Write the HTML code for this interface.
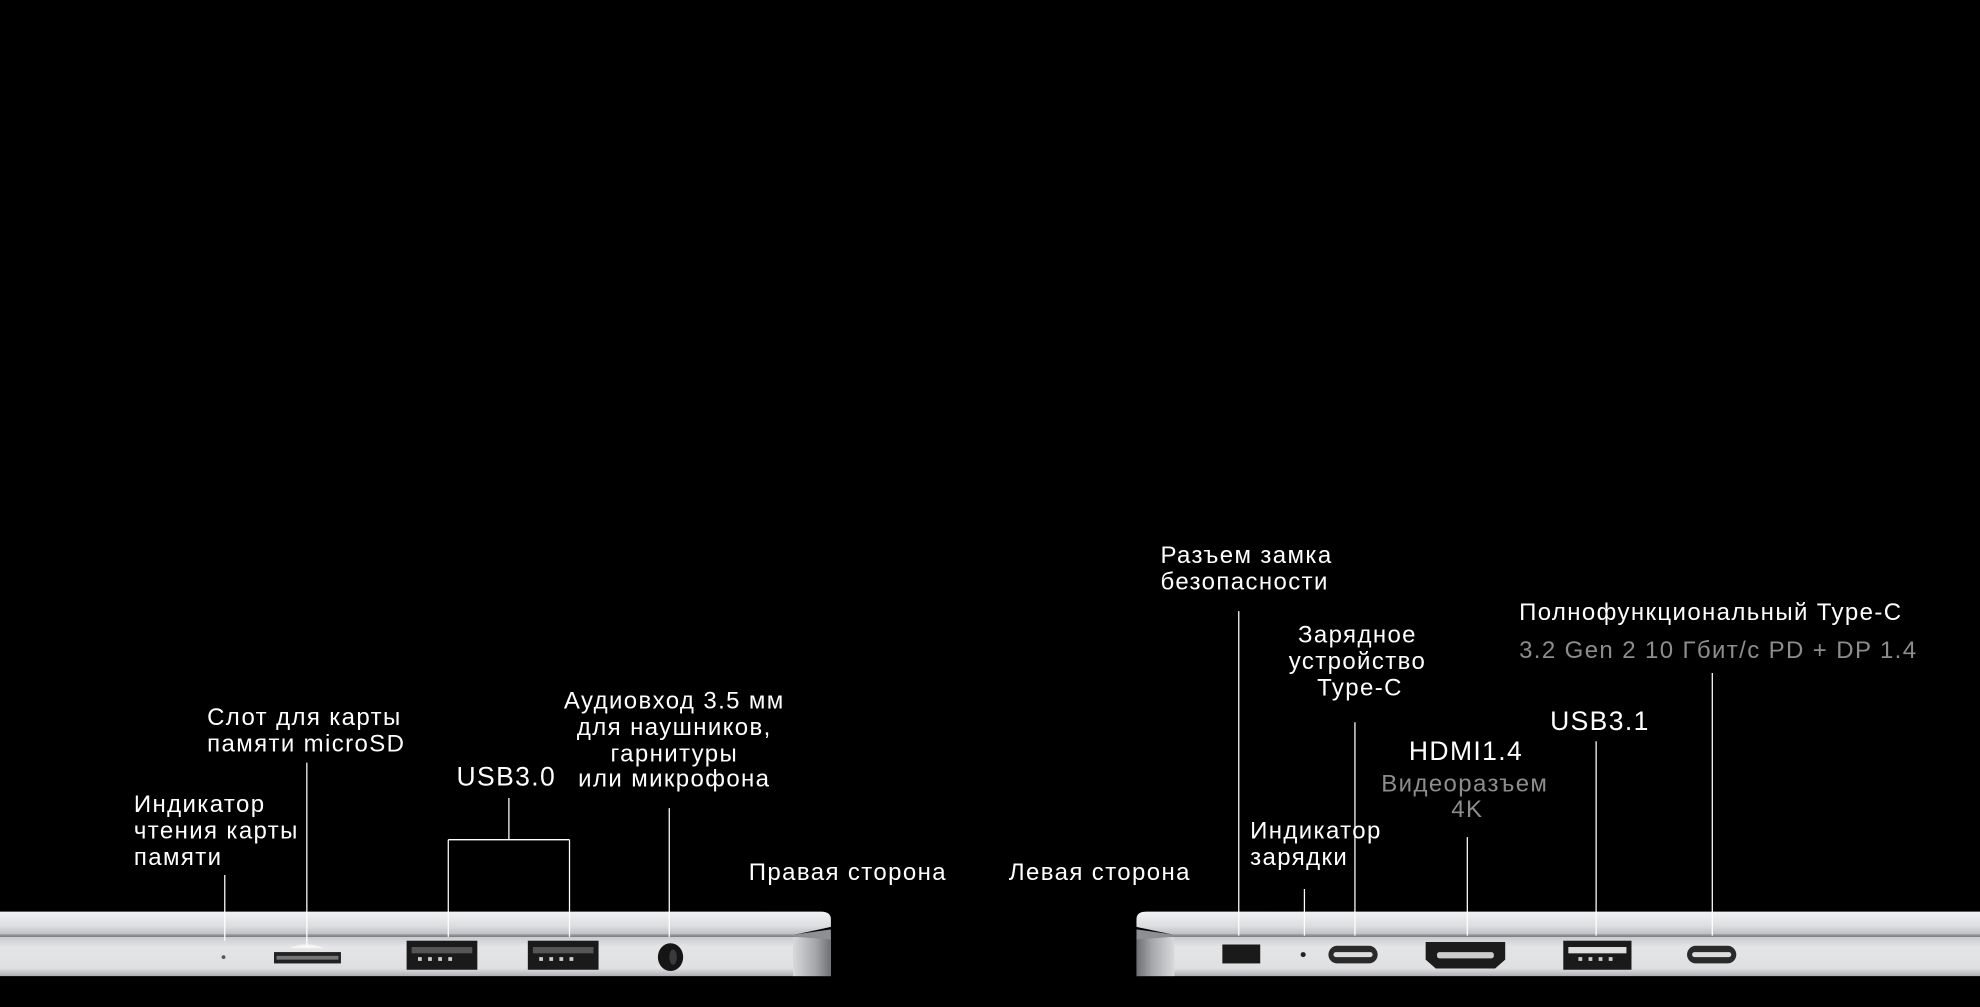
<!DOCTYPE html>
<html><head><meta charset="utf-8"><style>
html,body{margin:0;padding:0;background:#000;width:1980px;height:1007px;overflow:hidden}
svg{display:block}
text{font-family:"Liberation Sans",sans-serif;font-size:19px;fill:#fff;letter-spacing:1.1px}
.g{fill:#8d8d8d}
.l{stroke:#fff;stroke-width:1;fill:none}
</style></head><body>
<svg width="1980" height="1007" viewBox="0 0 1568 797.5" preserveAspectRatio="none">
<defs>
<linearGradient id="lid" x1="0" y1="0" x2="0" y2="1">
<stop offset="0" stop-color="#f2f3f5"/><stop offset="0.6" stop-color="#dcdde0"/><stop offset="1" stop-color="#b9babd"/>
</linearGradient>
<linearGradient id="base" x1="0" y1="0" x2="0" y2="1">
<stop offset="0" stop-color="#c9cacd"/><stop offset="0.25" stop-color="#e4e5e7"/><stop offset="0.8" stop-color="#dfe0e2"/><stop offset="1" stop-color="#b0b1b4"/>
</linearGradient>
<linearGradient id="endR" x1="0" y1="0" x2="1" y2="0">
<stop offset="0" stop-color="#d8d9db"/><stop offset="0.6" stop-color="#a5a6a9"/><stop offset="1" stop-color="#6e6f72"/>
</linearGradient>
<linearGradient id="endL" x1="1" y1="0" x2="0" y2="0">
<stop offset="0" stop-color="#d8d9db"/><stop offset="0.6" stop-color="#a5a6a9"/><stop offset="1" stop-color="#6e6f72"/>
</linearGradient>
</defs>

<!-- left laptop -->
<path d="M0 722 H650 Q658 722 658 728 V734 Q640 738 625 741 H0 Z" fill="url(#lid)"/>
<path d="M0 742 H640 L658 743 V773 H0 Z" fill="url(#base)"/>
<rect x="628" y="742" width="30" height="31" fill="url(#endR)"/>
<path d="M0 740 H630 L658 736 V744 L630 742 H0Z" fill="#8e8f92"/>
<!-- right laptop -->
<path d="M1568 722 H908 Q900 722 900 728 V734 Q918 738 933 741 H1568 Z" fill="url(#lid)"/>
<path d="M1568 742 H918 L900 743 V773 H1568 Z" fill="url(#base)"/>
<rect x="900" y="742" width="30" height="31" fill="url(#endL)"/>
<path d="M1568 740 H928 L900 736 V744 L928 742 H1568Z" fill="#8e8f92"/>

<!-- left ports -->
<circle cx="177" cy="758" r="1.5" fill="#555"/>
<path d="M229 751 Q243 745 257 751Z" fill="#f6f6f6"/>
<rect x="217" y="754" width="53" height="9" fill="#222"/>
<rect x="219" y="757" width="49" height="3" fill="#777"/>
<rect x="322" y="745" width="56" height="23" fill="#1a1a1a"/>
<rect x="326" y="750" width="48" height="5" fill="#555"/>
<g fill="#ccc"><rect x="331" y="758" width="3" height="3"/><rect x="339" y="758" width="3" height="3"/><rect x="347" y="758" width="3" height="3"/><rect x="355" y="758" width="3" height="3"/></g>
<rect x="418" y="745" width="56" height="23" fill="#1a1a1a"/>
<rect x="422" y="750" width="48" height="5" fill="#555"/>
<g fill="#ccc"><rect x="427" y="758" width="3" height="3"/><rect x="435" y="758" width="3" height="3"/><rect x="443" y="758" width="3" height="3"/><rect x="451" y="758" width="3" height="3"/></g>
<ellipse cx="531" cy="758" rx="10" ry="11" fill="#151515"/>
<ellipse cx="533" cy="758" rx="3" ry="6" fill="#3a3a3a"/>

<!-- right ports -->
<rect x="968" y="748" width="30" height="15" fill="#1a1a1a"/>
<circle cx="1032" cy="756" r="2" fill="#222"/>
<rect x="1052" y="749" width="39" height="14" rx="7" fill="#2a2a2a"/>
<rect x="1056" y="754" width="31" height="4" rx="2" fill="#ddd"/>
<path d="M1129 746 H1192 V760 L1184 767 H1137 L1129 760 Z" fill="#1c1c1c"/>
<rect x="1138" y="754" width="45" height="5" rx="2" fill="#ccc"/>
<rect x="1238" y="745" width="54" height="23" fill="#1a1a1a"/>
<rect x="1242" y="750" width="46" height="5" fill="#ddd"/>
<g fill="#ccc"><rect x="1250" y="758" width="3" height="3"/><rect x="1258" y="758" width="3" height="3"/><rect x="1266" y="758" width="3" height="3"/><rect x="1274" y="758" width="3" height="3"/></g>
<rect x="1336" y="749" width="39" height="14" rx="7" fill="#2a2a2a"/>
<rect x="1340" y="754" width="31" height="4" rx="2" fill="#ddd"/>

<!-- leader lines -->
<path class="l" d="M178 693V745 M243 604V750 M403 632V665 M355 665H451 M355 665V742 M451 665V742 M530 640V742"/>
<path class="l" d="M981 484V741 M1033 704V741 M1073 572V741 M1162 663V741 M1264 587V741 M1356 533V741"/>

<!-- labels left -->
<text x="106" y="643">Индикатор</text>
<text x="106" y="664">чтения карты</text>
<text x="106" y="685">памяти</text>
<text x="164" y="574">Слот для карты</text>
<text x="164" y="595">памяти microSD</text>
<text x="401" y="622" text-anchor="middle" style="font-size:21px">USB3.0</text>
<g text-anchor="middle">
<text x="534" y="561">Аудиовход 3.5 мм</text>
<text x="534" y="582">для наушников,</text>
<text x="534" y="603">гарнитуры</text>
<text x="534" y="623">или микрофона</text>
</g>
<text x="593" y="697">Правая сторона</text>
<text x="799" y="697">Левая сторона</text>

<!-- labels right -->
<text x="919" y="446">Разъем замка</text>
<text x="919" y="467">безопасности</text>
<g text-anchor="middle">
<text x="1075" y="509">Зарядное</text>
<text x="1075" y="530">устройство</text>
<text x="1077" y="551">Type-C</text>
<text x="1161" y="602" style="font-size:21px">HDMI1.4</text>
<text x="1160" y="627" class="g">Видеоразъем</text>
<text x="1162" y="647" class="g">4K</text>
<text x="1267" y="578" style="font-size:21px">USB3.1</text>
</g>
<text x="990" y="664">Индикатор</text>
<text x="990" y="685">зарядки</text>
<text x="1203" y="491">Полнофункциональный Type-C</text>
<text x="1203" y="521" class="g">3.2 Gen 2 10 Гбит/с PD + DP 1.4</text>
</svg>
</body></html>
